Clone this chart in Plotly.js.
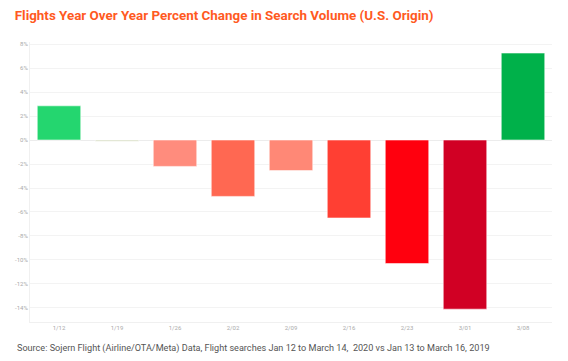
<!DOCTYPE html>
<html>
<head>
<meta charset="utf-8">
<script src="https://cdn.plot.ly/plotly-3.0.1.min.js"></script>
<style>html,body{margin:0;padding:0;background:#fff;}#chart{width:568px;height:361px;}</style>
</head>
<body>
<div id="chart"></div>
<script>
const weeks = ['1/12','1/19','1/26','2/02','2/09','2/16','2/23','3/01','3/08'];
const pctChange = [2.85, -0.1, -2.2, -4.7, -2.55, -6.5, -10.3, -14.1, 7.25];
const barColors = ['#24d66f','#d2d8bc','#ff8c7d','#ff6852','#ff8876','#ff3f33','#ff000e','#d10024','#00b14a'];
const yTickVals = [8,6,4,2,0,-2,-4,-6,-8,-10,-12,-14];
const yTickText = yTickVals.map(v => v + '%');

const trace = {
  type: 'bar',
  x: weeks,
  y: pctChange,
  marker: {color: barColors, line: {color: 'rgba(255,255,255,0.55)', width: 1}},
  hoverinfo: 'none'
};

const layout = {
  width: 568, height: 361,
  margin: {l: 30, r: 16, t: 42, b: 39},
  paper_bgcolor: '#fff', plot_bgcolor: '#fff',
  bargap: 0.25,
  showlegend: false,
  font: {family: 'Roboto, sans-serif'},
  title: {
    text: '<b>Flights Year Over Year Percent Change in Search Volume (U.S. Origin)</b>',
    x: 0.026, xanchor: 'left', y: 0.958, yanchor: 'middle',
    font: {family: 'Roboto, sans-serif', size: 13.4, color: '#ff5a1f'}
  },
  xaxis: {
    type: 'category',
    tickfont: {size: 6, color: '#aaa'},
    showgrid: false, showline: true, linecolor: '#f0f0f0', linewidth: 1,
    ticks: ''
  },
  yaxis: {
    range: [-15.17, 8.17],
    tickvals: yTickVals, ticktext: yTickText,
    tickfont: {size: 6, color: '#aaa'},
    gridcolor: '#f3f3f3', gridwidth: 1,
    zeroline: true, zerolinecolor: '#ececec', zerolinewidth: 1,
    showline: true, linecolor: '#f0f0f0', linewidth: 1,
    ticks: ''
  },
  annotations: [{
    xref: 'paper', yref: 'paper', x: -0.029, y: -0.093, xanchor: 'left', yanchor: 'middle',
    text: 'Source: Sojern Flight (Airline/OTA/Meta) Data, Flight searches Jan 12 to March 14,&nbsp; 2020 vs Jan 13 to March 16, 2019',
    showarrow: false,
    font: {family: 'Roboto, sans-serif', size: 9.1, color: '#555'}
  }]
};

Plotly.newPlot('chart', [trace], layout, {displayModeBar: false, staticPlot: true});
</script>
</body>
</html>
